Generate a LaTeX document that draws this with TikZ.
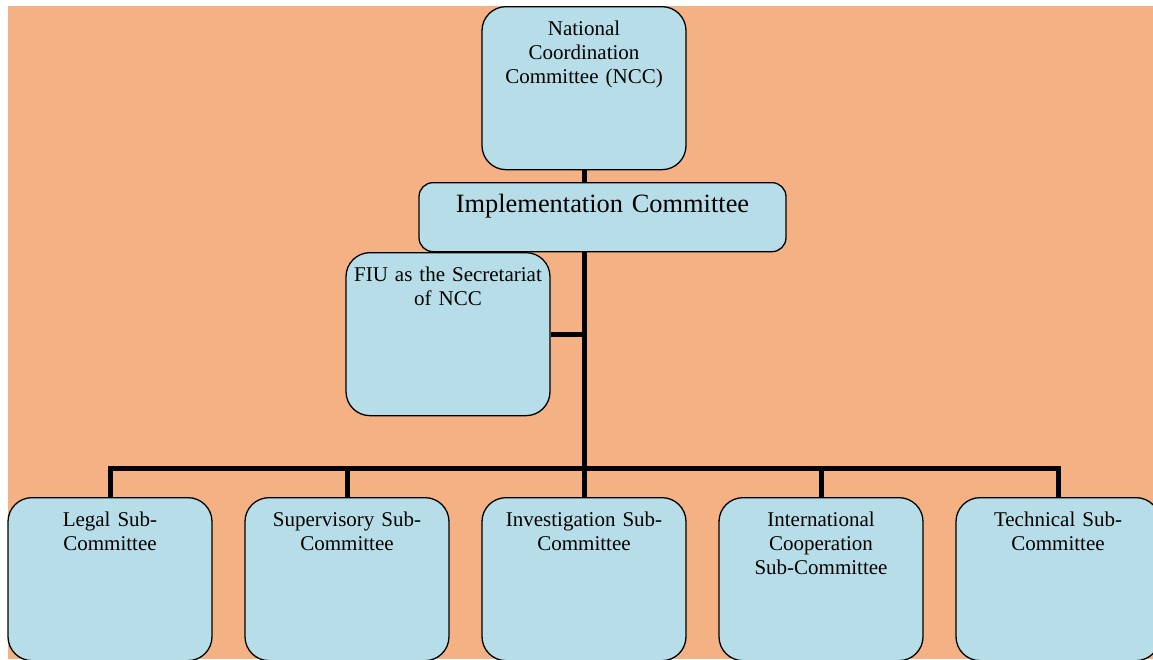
\documentclass[tikz,border=0pt]{standalone}
\usepackage{fontspec}
\setmainfont{Liberation Serif}

\definecolor{bgorange}{HTML}{F4B183}
\definecolor{boxblue}{HTML}{B7DEE8}

\tikzset{
  unit/.style={draw, line width=1.3pt, fill=boxblue, rounded corners=24pt,
    anchor=north, align=center, inner xsep=0pt, inner ysep=0pt,
    text width=200pt, minimum width=204pt, text height=29pt, text depth=134pt,
    font=\fontsize{21}{24}\selectfont},
  wire/.style={line width=5pt}
}

\begin{document}
\begin{tikzpicture}[x=1pt, y=-1pt]
  \useasboundingbox (0,0) rectangle (1153,659);
  \fill[bgorange] (8,6) rectangle (1153,659);

  \node [unit](ncc) at (584,6) {National\\Coordination\\Committee (NCC)};
  \node [unit, rounded corners=14pt, text width=363pt, minimum width=367pt,
    text height=30pt, text depth=39pt, font=\fontsize{26.4}{30}\selectfont](impl) at (602.5,182) {Implementation Committee};
  \node [unit](fiu) at (448,252) {FIU as the Secretariat\\of NCC};

  % sub-committees
  \node [unit](legal) at (110,497) {Legal Sub-\\Committee};
  \node [unit](super) at (347,497) {Supervisory Sub-\\Committee};
  \node [unit](invest) at (584,497) {Investigation Sub-\\Committee};
  \node [unit](intl) at (821,497) {International\\Cooperation\\Sub-Committee};
  \node [unit](tech) at (1058,497) {Technical Sub-\\Committee};

  \coordinate (hub) at (584,468);

  \draw[wire] (ncc.south) -- (ncc.south |- impl.north);
  \draw[wire] (ncc.south |- impl.south) -- (hub);
  \draw[wire] (fiu.east) -- (fiu.east -| hub);
  \draw[wire] (legal.north) |- (hub) -| (tech.north);
  \foreach \b in {super, invest, intl}
    \draw[wire] (\b.north) -- (\b.north |- hub);
\end{tikzpicture}
\end{document}
